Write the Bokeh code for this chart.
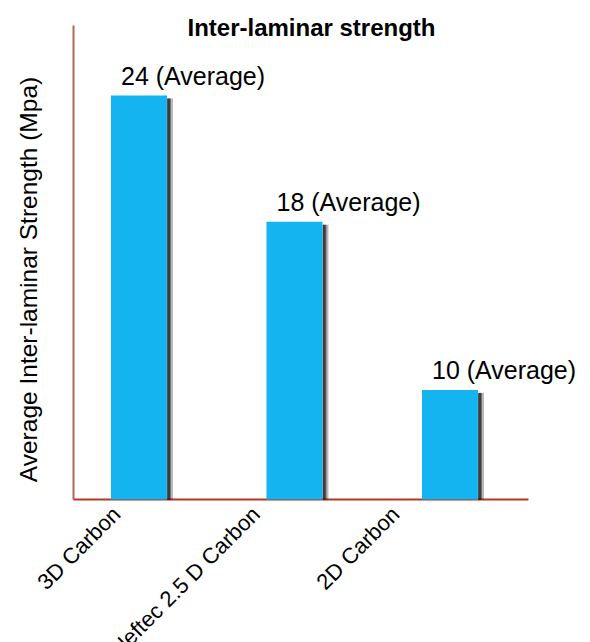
from math import pi

from bokeh.core.properties import value
from bokeh.embed import file_html
from bokeh.models import ColumnDataSource, Range1d
from bokeh.plotting import figure
from bokeh.resources import INLINE

# --- data -------------------------------------------------------------
materials = ["3D Carbon", "Neftec 2.5 D Carbon", "2D Carbon"]
strength = [24, 18, 10]                       # average inter-laminar strength, MPa
value_text = [f"{v} (Average)" for v in strength]
chart_title = "Inter-laminar strength"
y_title = "Average Inter-laminar Strength (Mpa)"

# --- style ------------------------------------------------------------
FONT = value("Liberation Sans")
BAR_COLOR = "#13b4f0"
X_AXIS_COLOR = "#b8352b"
Y_AXIS_COLOR = "#b5655c"

W, H = 590, 642
LEFT, RIGHT, TOP, BOTTOM = 73, 62, 25, 143      # space around the axes
plot_w = W - LEFT - RIGHT
plot_h = H - TOP - BOTTOM

# extent of the two axes in data units
x_lo, x_hi = -0.421, 2.505
y_lo, y_hi = 4.79, 27.33
px_x = (x_hi - x_lo) / plot_w      # data units per screen pixel
px_y = (y_hi - y_lo) / plot_h
bar_w = 0.36

# the material names sit on their own, slightly tighter, category scale
n_lo, n_hi = -0.3082, 2.9534
px_n = (n_hi - n_lo) / plot_w

idx = list(range(len(materials)))
bar_left = [i - bar_w / 2 for i in idx]
bar_right = [i + bar_w / 2 for i in idx]
src = ColumnDataSource(dict(idx=idx, value=strength))

p = figure(
    width=W, height=H,
    x_range=Range1d(x_lo - LEFT * px_x, x_hi + RIGHT * px_x),
    y_range=Range1d(y_lo - BOTTOM * px_y, y_hi + TOP * px_y),
    x_axis_type=None, y_axis_type=None,
    output_backend="svg", toolbar_location=None,
    min_border=0,
    background_fill_color="white", border_fill_color="white",
)
p.outline_line_color = None
p.grid.grid_line_color = None
p.extra_x_ranges = {"names": Range1d(n_lo - LEFT * px_n, n_hi + RIGHT * px_n)}

# axis lines
p.segment(x0=[x_lo], y0=[y_lo], x1=[x_lo], y1=[y_hi],
          line_color=Y_AXIS_COLOR, line_width=2)
p.segment(x0=[x_lo], y0=[y_lo], x1=[x_hi], y1=[y_lo],
          line_color=X_AXIS_COLOR, line_width=2)

# drop shadow on the right side of every bar
shadow_layers = [(0, 6, 0.28), (0, 4, 0.40), (0.5, 3, 0.45)]
for a, b, alpha in shadow_layers:
    p.quad(
        left=[r + a * px_x for r in bar_right],
        right=[r + b * px_x for r in bar_right],
        top=[v - 3 * px_y for v in strength],
        bottom=[y_lo] * len(strength),
        fill_color="black", fill_alpha=alpha, line_color=None,
    )

p.vbar(x="idx", top="value", bottom=y_lo, width=bar_w, source=src,
       fill_color=BAR_COLOR, line_color=None)

# value labels above the bars
p.text(
    x=[l + 10 * px_x for l in bar_left],
    y=[v + 20 * px_y for v in strength],
    text=value_text,
    text_align="left", text_baseline="alphabetic",
    text_font=FONT, text_font_size="25px", text_color="black",
)

# rotated material names under the axis
p.text(
    x=idx, y=[y_lo - 11 * px_y] * len(idx), text=materials,
    x_range_name="names", angle=pi / 4,
    text_align="right", text_baseline="middle",
    text_font=FONT, text_font_size="22px", text_color="black",
)

# chart title
p.text(
    x=[x_lo + 238 * px_x], y=[y_hi - 1.5 * px_y], text=[chart_title],
    text_align="center", text_baseline="alphabetic",
    text_font=FONT, text_font_size="24px", text_font_style="bold",
    text_color="black",
)

# value-axis title
p.text(
    x=[x_lo - 45 * px_x], y=[y_lo + 220 * px_y], text=[y_title],
    angle=pi / 2, text_align="center", text_baseline="alphabetic",
    text_font=FONT, text_font_size="24.5px", text_color="black",
)

open("out.html", "w").write(file_html(p, INLINE))
